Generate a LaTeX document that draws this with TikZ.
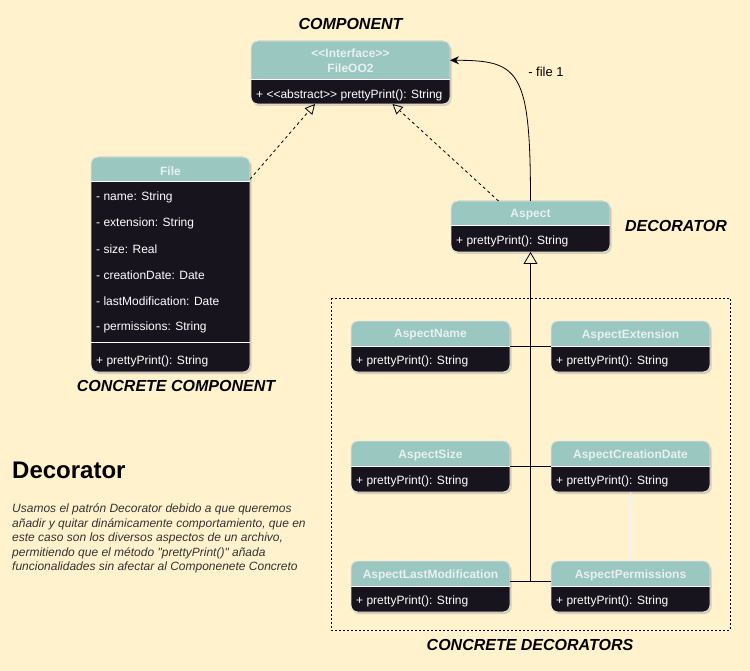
\documentclass[tikz,border=0pt]{standalone}
\usepackage{fontspec}
\setmainfont{Liberation Sans}[Ligatures=TeXOff]
\usetikzlibrary{positioning,arrows.meta,shadows}
\definecolor{umlbg}{HTML}{FFF2CC}
\definecolor{umlteal}{HTML}{9AC7BF}
\definecolor{umldark}{HTML}{18141D}
\definecolor{umlhead}{HTML}{E8F1EF}
\definecolor{umlnote}{HTML}{333333}

\begin{document}
\begin{tikzpicture}[x=1pt,y=-1pt,
				umlclass/.style={draw=white!80!gray,line width=.8pt,fill=umldark,rounded corners=7pt,
					minimum width=159pt,minimum height=51pt,inner sep=0pt,outer sep=0pt,
					drop shadow={shadow xshift=1.5pt,shadow yshift=-2pt,opacity=.3},
					path picture={\fill[umlteal,sharp corners] (path picture bounding box.north west) rectangle ([yshift=-#1]path picture bounding box.north east);
						\draw[white,line width=1pt,sharp corners] ([yshift=-#1]path picture bounding box.north west) -- ([yshift=-#1]path picture bounding box.north east);}},
				umlclass/.default=25pt,
				headtxt/.style={text=umlhead,font=\bfseries\fontsize{12}{15}\selectfont,align=center,inner sep=0pt},
				bodytxt/.style={text=white,font=\fontsize{12}{14}\selectfont,anchor=west,inner sep=0pt},
				role/.style={font=\bfseries\itshape\fontsize{16}{19}\selectfont,inner sep=0pt},
				realize/.style={draw,line width=.8pt,dash pattern=on 3pt off 3pt,-{Triangle[open,length=10pt,width=10pt]}},
				inherit/.style={draw,line width=.8pt,-{Triangle[open,length=12pt,width=14pt]}},
				assoc/.style={draw,line width=.8pt,-{Stealth[length=9pt,width=8pt]}},
				ghost/.style={draw=white!94!black,line width=1.5pt,-{Triangle[length=6pt,width=5pt]}}]
				\fill[umlbg] (0,0) rectangle (750,671);
				\useasboundingbox (0,0) rectangle (750,671);

				% component
				\node[umlclass=39pt,minimum width=199pt,minimum height=63pt] (iface) at (350.5,72.5) {};
				\node[headtxt] (ifaceT) at ([yshift=-19.5pt]iface.north) {<<Interface>>\\FileOO2};
				\node[bodytxt] (ifaceM) at ([xshift=5pt,yshift=-54pt]iface.north west) {+ <<abstract>> prettyPrint(): String};
				\node[role] (compLbl) at (350.5,24) {COMPONENT};

				% concrete component
				\node[umlclass,minimum height=215pt] (file) at (170.5,264.5) {};
				\node[headtxt] (fileT) at ([yshift=-14pt]file.north) {File};
				\foreach \attr [count=\i] in {- name: String,- extension: String,- size: Real,
					- creationDate: Date,- lastModification: Date,- permissions: String}
					\node[bodytxt] (attr\i) at ([xshift=5pt,yshift=-14pt-26pt*\i]file.north west) {\attr};
				\draw[white,line width=1pt] ([yshift=-185pt]file.north west) -- ([yshift=-185pt]file.north east);
				\node[bodytxt] (fileM) at ([xshift=5pt,yshift=-204pt]file.north west) {+ prettyPrint(): String};
				\node[role] (concLbl) at (176,386) {CONCRETE COMPONENT};

				% decorator
				\node[umlclass] (aspect) at (530.5,226.5) {};
				\node[headtxt] (aspectT) at ([yshift=-14pt]aspect.north) {Aspect};
				\node[bodytxt] (aspectM) at ([xshift=5pt,yshift=-40.5pt]aspect.north west) {+ prettyPrint(): String};
				\node[role] (decoLbl) at (676,226) {DECORATOR};

				% concrete decorators
				\draw[line width=.8pt,dash pattern=on 2pt off 2pt] (331,298) rectangle (730,630);
				\node[umlclass] (aName)                        at (430.5,346.5) {};
				\node[umlclass] (aExt)    [right=41pt of aName]  {};
				\node[umlclass] (aSize)                        at (430.5,466.5) {};
				\node[umlclass] (aCreate) [right=41pt of aSize]  {};
				\node[umlclass] (aLast)                        at (430.5,586.5) {};
				\node[umlclass] (aPerm)   [right=41pt of aLast]  {};
				\foreach \cls/\name in {aName/AspectName,aExt/AspectExtension,aSize/AspectSize,
					aCreate/AspectCreationDate,aLast/AspectLastModification,aPerm/AspectPermissions}{
					\node[headtxt] (\cls T) at ([yshift=-14pt]\cls.north) {\name};
					\node[bodytxt] (\cls M) at ([xshift=5pt,yshift=-40.5pt]\cls.north west) {+ prettyPrint(): String};
				}
				\node[role] (cdecoLbl) at (530,645) {CONCRETE DECORATORS};

				% connectors
				\draw[realize] (file.47.4) -- ([xshift=-35.5pt]iface.south);
				\draw[realize] ([xshift=-32pt]aspect.north) -- ([xshift=42pt]iface.south);
				\draw[assoc] (aspect.north) .. controls +(0,-131) and +(69.5,0) .. (iface.7.1);
				\node[font=\fontsize{13}{15}\selectfont,inner sep=0pt] (fileLbl) at (546,72) {- file 1};
				\coordinate (trunk) at ([yshift=5pt]aLast.east -| aspect.south);
				\draw[inherit] (trunk) -- (aspect.south);
				\draw[line width=.8pt] (aName) -- (aExt);
				\draw[line width=.8pt] (aSize) -- (aCreate);
				\draw[line width=.8pt] ([yshift=5pt]aLast.east) -- ([yshift=5pt]aPerm.west);
				\draw[ghost] (aPerm) -- (aCreate);

				% note
				\node[anchor=west,font=\bfseries\fontsize{24}{28}\selectfont,inner sep=0pt] (title) at (12,470) {Decorator};
				\node[anchor=north west,align=left,text=umlnote,font=\itshape\fontsize{12}{14.5}\selectfont,inner sep=0pt] (note) at (12,503.5)
					{Usamos el patrón Decorator debido a que queremos\\
					añadir y quitar dinámicamente comportamiento, que en\\
					este caso son los diversos aspectos de un archivo,\\
					permitiendo que el método "prettyPrint()" añada\\
					funcionalidades sin afectar al Componenete Concreto};
			\end{tikzpicture}
\end{document}
